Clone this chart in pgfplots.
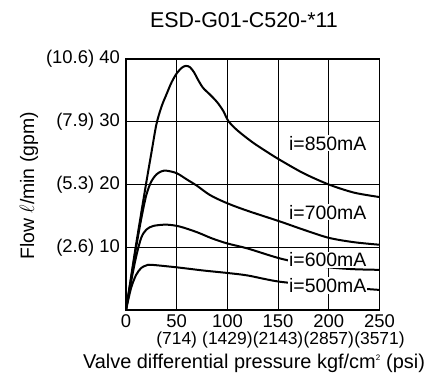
\documentclass[border=0pt]{standalone}
\usepackage{pgfplots}
\pgfplotsset{compat=1.18}
\usepackage{fontspec}
\setmainfont{Liberation Sans}
\begin{document}
\begin{tikzpicture}
\begin{axis}[
  at={(126bp,81bp)}, anchor=south west,
  scale only axis, width=253.5bp, height=251bp,
  xmin=0, xmax=250, ymin=0, ymax=40,
  xtick={0,50,100,150,200,250}, ytick={0,10,20,30,40},
  xticklabels={0,{50\\\fontsize{17.5}{17}\selectfont(714)},{100\\\fontsize{17.5}{17}\selectfont(1429)},{150\\\fontsize{17.5}{17}\selectfont(2143)},{200\\\fontsize{17.5}{17}\selectfont(2857)},{250\\\fontsize{17.5}{17}\selectfont(3571)}},
  yticklabels={,{(2.6) 10},{(5.3) 20},{(7.9) 30},{(10.6) 40}},
  xticklabel style={align=center, font=\fontsize{18.5}{17}\selectfont, inner sep=0pt, yshift=-4bp},
  yticklabel style={font=\fontsize{18.5}{20}\selectfont, inner sep=0pt, xshift=-6bp},
  major tick length=0pt,
  grid=major, major grid style={black, line width=0.9bp},
  axis line style={line width=1.5bp},
  /pgf/number format/assume math mode=true,
  clip=false,
]
\addplot[black, line width=2bp, smooth, tension=0.5] coordinates {
(0,0) (10,10.5) (20,20.3) (25,25.0) (30,29.6) (35,32.4) (40,34.4) (45,36.3) (50,37.7) (55,38.6) (59,38.9) (63,38.7) (67,37.9) (71,36.7) (76,35.4) (83,34.3) (90,33.1) (96,31.7) (101,30.1) (110,28.6) (125,26.7) (140,25.1) (152,23.9) (175,21.8) (200,20.0) (225,18.7) (250,18.0)};
\addplot[black, line width=2bp, smooth, tension=0.5] coordinates {
(0,0) (5,5) (10,10) (15,14.5) (20,18.3) (25,20.5) (30,21.6) (35,22.1) (40,22.2) (50,21.8) (60,20.8) (70,19.8) (83,18.3) (100,17.0) (120,15.8) (152,14.1) (175,12.8) (200,11.5) (225,10.8) (250,10.4)};
\addplot[black, line width=2bp, smooth, tension=0.5] coordinates {
(0,0) (5,4.5) (10,8.5) (15,11.5) (20,12.8) (27,13.4) (40,13.6) (53,13.3) (70,12.4) (85,11.4) (100,10.6) (120,9.8) (150,8.3) (175,7.4) (200,6.8) (225,6.5) (250,6.4)};
\addplot[black, line width=2bp, smooth, tension=0.5] coordinates {
(0,0) (5,3.5) (10,5.6) (15,6.7) (20,7.1) (25,7.2) (50,6.8) (76,6.3) (100,5.9) (120,5.5) (152,4.5) (200,3.8) (250,3.2)};
\node[fill=white, inner sep=1pt, font=\fontsize{19.5}{19.5}\selectfont] at (axis cs:199,26.6) {i=850mA};
\node[fill=white, inner sep=1pt, font=\fontsize{19.5}{19.5}\selectfont] at (axis cs:199,15.6) {i=700mA};
\node[fill=white, inner sep=1pt, font=\fontsize{19.5}{19.5}\selectfont] at (axis cs:199,8.0) {i=600mA};
\node[fill=white, inner sep=1pt, font=\fontsize{19.5}{19.5}\selectfont] at (axis cs:199,3.9) {i=500mA};
\end{axis}
\node[font=\fontsize{21.5}{22}\selectfont] at (244bp,371bp) {ESD-G01-C520-*11};
\node[font=\fontsize{20}{20}\selectfont] at (254bp,28bp) {Valve differential pressure kgf/cm\textsuperscript{\fontsize{8}{8}\selectfont 2} (psi)};
\node[rotate=90, font=\fontsize{19.5}{20}\selectfont] at (29bp,205bp) {Flow $\ell$/min (gpm)};
\pgfresetboundingbox
\path (0,0) rectangle (433bp,391bp);
\end{tikzpicture}
\end{document}
